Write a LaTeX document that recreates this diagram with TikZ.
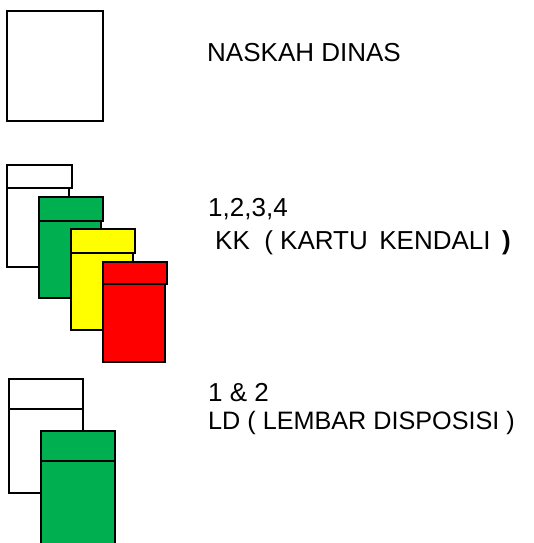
\documentclass[tikz,border=0pt]{standalone}
\usepackage{fontspec}
\setmainfont{Liberation Sans}
\definecolor{cardgreen}{HTML}{00B050}
\definecolor{cardyellow}{HTML}{FFFF00}
\definecolor{cardred}{HTML}{FF0000}
\tikzset{
  sheet/.style={draw=black, line width=1.6pt, fill=white},
  card/.style={draw=black, line width=1.8pt},
  label/.style={anchor=base west, inner sep=0pt, font=\fontsize{26}{30}\selectfont},
}
% one index card: body, then the wider header strip on top
% #1 fill, #2 left x, #3 top y, #4 header bottom y, #5 body bottom y, #6 header right x, #7 body right x
\newcommand{\kcard}[7]{%
  \draw[card, fill=#1] (#2,#4) rectangle (#7,#5);
  \draw[card, fill=#1] (#2,#3) rectangle (#6,#4);
}
\begin{document}
\begin{tikzpicture}[x=1pt, y=-1pt]
\useasboundingbox (0,0) rectangle (534,543);
\fill[white] (0,0) rectangle (534,543);
\clip (0,0) rectangle (534,543);

% official letter
\draw[sheet] (7,11) rectangle (103,121);
\node[label] (naskah) at (207,62) {NASKAH DINAS};

% control cards 1-4
\kcard{white}{7}{165}{188}{267}{72}{69}
\kcard{cardgreen}{39}{197}{221}{298}{103}{101}
\kcard{cardyellow}{71}{229}{253}{330}{135}{133}
\kcard{cardred}{103}{262}{284}{362}{167}{165}
\node[label] (kknum) at (208,216) {1,2,3,4};
\node[label] (kk) at (215,249) {KK\ \ ( KARTU \,KENDALI \,\textbf{)}};

% disposition sheets 1 and 2
\kcard{white}{9}{379}{409}{493}{83}{83}
\draw[card, line width=2.2pt, fill=cardgreen] (41,461) rectangle (115,560);
\draw[card, line width=2.2pt, fill=cardgreen] (41,431) rectangle (115,461);
\node[label] (ldnum) at (208,401) {1 \& 2};
\node[label, font=\fontsize{25.2}{30}\selectfont] (ld) at (208,429) {LD ( LEMBAR DISPOSISI )};
\end{tikzpicture}
\end{document}
